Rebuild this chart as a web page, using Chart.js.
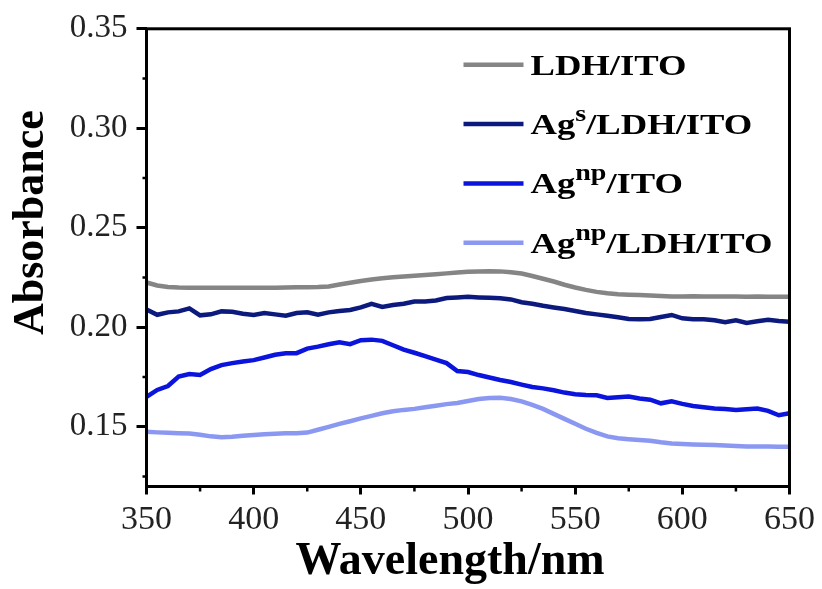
<!DOCTYPE html>
<html>
<head>
<meta charset="utf-8">
<script src="https://cdn.jsdelivr.net/npm/chart.js@4.4.1/dist/chart.umd.min.js"></script>
<style>
  html, body { margin: 0; padding: 0; background: #fff; }
  #wrap { width: 822px; height: 589px; }
</style>
</head>
<body>
<div id="wrap"><canvas id="absChart"></canvas></div>
<script>
// wavelengths (nm)
const wavelengths = [350, 355, 360, 365, 370, 375, 380, 385, 390, 395, 400, 405, 410, 415, 420, 425, 430, 435, 440, 445,
  450, 455, 460, 465, 470, 475, 480, 485, 490, 495, 500, 505, 510, 515, 520, 525, 530, 535, 540, 545,
  550, 555, 560, 565, 570, 575, 580, 585, 590, 595, 600, 605, 610, 615, 620, 625, 630, 635, 640, 645, 650];

const ldhIto = [0.2225, 0.2210, 0.2203, 0.2200, 0.2199, 0.2199, 0.2199, 0.2199, 0.2199, 0.2199, 0.2199, 0.2199, 0.2199, 0.2200, 0.2201, 0.2201, 0.2202, 0.2205, 0.2215, 0.2224,
  0.2233, 0.2240, 0.2246, 0.2251, 0.2255, 0.2259, 0.2263, 0.2267, 0.2271, 0.2275, 0.2279, 0.2281, 0.2282, 0.2281, 0.2277, 0.2270, 0.2258, 0.2244, 0.2230, 0.2214,
  0.2200, 0.2188, 0.2178, 0.2171, 0.2166, 0.2164, 0.2162, 0.2160, 0.2157, 0.2155, 0.2155, 0.2156, 0.2155, 0.2155, 0.2155, 0.2155, 0.2153, 0.2155, 0.2153, 0.2153, 0.2153];

const agsLdhIto = [0.2090, 0.2063, 0.2075, 0.2080, 0.2095, 0.2060, 0.2065, 0.2080, 0.2078, 0.2068, 0.2062, 0.2072, 0.2065, 0.2058, 0.2072, 0.2075, 0.2063, 0.2075, 0.2082, 0.2087,
  0.2100, 0.2118, 0.2102, 0.2112, 0.2118, 0.2130, 0.2130, 0.2135, 0.2147, 0.2150, 0.2153, 0.2150, 0.2148, 0.2146, 0.2140, 0.2126, 0.2118, 0.2108, 0.2100, 0.2092,
  0.2082, 0.2072, 0.2065, 0.2058, 0.2050, 0.2042, 0.2040, 0.2042, 0.2052, 0.2062, 0.2045, 0.2040, 0.2040, 0.2035, 0.2025, 0.2035, 0.2022, 0.2030, 0.2038, 0.2032, 0.2028];

const agnpIto = [0.1650, 0.1685, 0.1705, 0.1752, 0.1765, 0.1760, 0.1790, 0.1810, 0.1820, 0.1828, 0.1835, 0.1848, 0.1862, 0.1870, 0.1870, 0.1893, 0.1903, 0.1915, 0.1925, 0.1915,
  0.1935, 0.1938, 0.1932, 0.1910, 0.1888, 0.1872, 0.1855, 0.1838, 0.1820, 0.1780, 0.1775, 0.1760, 0.1748, 0.1735, 0.1725, 0.1712, 0.1700, 0.1693, 0.1684, 0.1672,
  0.1664, 0.1660, 0.1658, 0.1645, 0.1648, 0.1652, 0.1642, 0.1636, 0.1618, 0.1628, 0.1615, 0.1605, 0.1598, 0.1592, 0.1590, 0.1585, 0.1588, 0.1592, 0.1580, 0.1558, 0.1568];

const agnpLdhIto = [0.1475, 0.1472, 0.1470, 0.1468, 0.1466, 0.1460, 0.1452, 0.1447, 0.1450, 0.1455, 0.1459, 0.1462, 0.1465, 0.1467, 0.1468, 0.1471, 0.1485, 0.1500, 0.1515, 0.1528,
  0.1542, 0.1555, 0.1568, 0.1578, 0.1585, 0.1590, 0.1598, 0.1606, 0.1614, 0.1620, 0.1630, 0.1640, 0.1645, 0.1646, 0.1640, 0.1628, 0.1610, 0.1590, 0.1565, 0.1540,
  0.1515, 0.1490, 0.1470, 0.1452, 0.1443, 0.1438, 0.1434, 0.1430, 0.1422, 0.1416, 0.1413, 0.1411, 0.1410, 0.1409, 0.1406, 0.1403, 0.1401, 0.1401, 0.1401, 0.1400, 0.1400];

// ^ marks a superscript run
const seriesNames = ['LDH/ITO', 'Ag^s/LDH/ITO', 'Ag^np/ITO', 'Ag^np/LDH/ITO'];
const seriesColors = ['#858585', '#0c1a7e', '#0a14dc', '#8a98f2'];
const seriesValues = [ldhIto, agsLdhIto, agnpIto, agnpLdhIto];

const xTicks = [350, 400, 450, 500, 550, 600, 650];
const yTicks = [0.15, 0.20, 0.25, 0.30, 0.35];

const serif = '"Liberation Serif", "Times New Roman", serif';

function toPoints(vals) {
  return wavelengths.map((w, i) => ({ x: w, y: vals[i] }));
}

function parseLabel(s) {
  // split "Ag^np/ITO" into runs
  const m = s.match(/^([^\^]*)\^([a-z]+)(.*)$/);
  if (!m) return [{ t: s, sup: false }];
  return [{ t: m[1], sup: false }, { t: m[2], sup: true }, { t: m[3], sup: false }];
}

const framePlugin = {
  id: 'frame',
  afterDraw(chart) {
    const { ctx, chartArea: a, scales } = chart;
    ctx.save();
    ctx.strokeStyle = '#000';
    ctx.lineWidth = 3;
    ctx.strokeRect(a.left, a.top, a.right - a.left, a.bottom - a.top);

    // minor ticks
    ctx.lineWidth = 2.5;
    ctx.beginPath();
    for (let i = 0; i < xTicks.length - 1; i++) {
      const px = scales.x.getPixelForValue((xTicks[i] + xTicks[i + 1]) / 2);
      ctx.moveTo(px, a.bottom);
      ctx.lineTo(px, a.bottom + 5);
    }
    const yMinor = [0.125].concat(yTicks.slice(0, -1).map((v, i) => (v + yTicks[i + 1]) / 2));
    yMinor.forEach(v => {
      const py = scales.y.getPixelForValue(v);
      ctx.moveTo(a.left, py);
      ctx.lineTo(a.left - 4, py);
    });
    ctx.stroke();

    // axis titles
    ctx.fillStyle = '#000';
    ctx.font = 'bold 46px ' + serif;
    ctx.textAlign = 'center';
    ctx.textBaseline = 'alphabetic';
    ctx.fillText('Wavelength/nm', (a.left + a.right) / 2 - 18, 574);

    ctx.save();
    ctx.translate(43, (a.top + a.bottom) / 2 - 35);
    ctx.rotate(-Math.PI / 2);
    ctx.font = 'bold 44px ' + serif;
    ctx.fillText('Absorbance', 0, 0);
    ctx.restore();

    // legend
    const lx = a.left + 317;
    chart.data.datasets.forEach((ds, i) => {
      const y = a.top + 36 + i * 59.3;
      ctx.strokeStyle = ds.borderColor;
      ctx.lineWidth = 4.5;
      ctx.beginPath();
      ctx.moveTo(lx, y);
      ctx.lineTo(lx + 60, y);
      ctx.stroke();

      ctx.save();
      ctx.translate(lx + 67, y + 10);
      ctx.scale(1.22, 1);
      ctx.fillStyle = '#000';
      ctx.textAlign = 'left';
      let cx = 0;
      parseLabel(ds.label).forEach(run => {
        ctx.font = (run.sup ? 'bold 23px ' : 'bold 30px ') + serif;
        ctx.fillText(run.t, cx, run.sup ? -13 : 0);
        cx += ctx.measureText(run.t).width;
      });
      ctx.restore();
    });
    ctx.restore();
  }
};

const chart = new Chart(document.getElementById('absChart'), {
  type: 'line',
  data: {
    datasets: seriesNames.map((name, i) => ({
      label: name,
      data: toPoints(seriesValues[i]),
      borderColor: seriesColors[i],
      borderWidth: 4.5,
      pointRadius: 0,
      tension: 0,
      fill: false
    }))
  },
  options: {
    responsive: true,
    maintainAspectRatio: false,
    animation: false,
    layout: { padding: { top: 27, right: 32.5, left: 0, bottom: 0 } },
    plugins: {
      legend: { display: false },
      tooltip: { enabled: false }
    },
    scales: {
      x: {
        type: 'linear',
        min: 350,
        max: 650,
        afterBuildTicks: s => { s.ticks = xTicks.map(v => ({ value: v })); },
        afterFit: s => { s.height = 102.5; },
        grid: { drawOnChartArea: false, tickLength: 8, tickWidth: 3, tickColor: '#000' },
        border: { display: false },
        ticks: { color: '#222', padding: 5, maxRotation: 0, font: { family: serif, size: 34 } }
      },
      y: {
        min: 0.12,
        max: 0.35,
        afterBuildTicks: s => { s.ticks = yTicks.map(v => ({ value: v })); },
        afterFit: s => { s.width = 146.5; },
        grid: { drawOnChartArea: false, tickLength: 10, tickWidth: 3, tickColor: '#000' },
        border: { display: false },
        ticks: {
          color: '#222',
          padding: 9,
          font: { family: serif, size: 33 },
          callback: v => v.toFixed(2)
        }
      }
    }
  },
  plugins: [framePlugin]
});
</script>
</body>
</html>
